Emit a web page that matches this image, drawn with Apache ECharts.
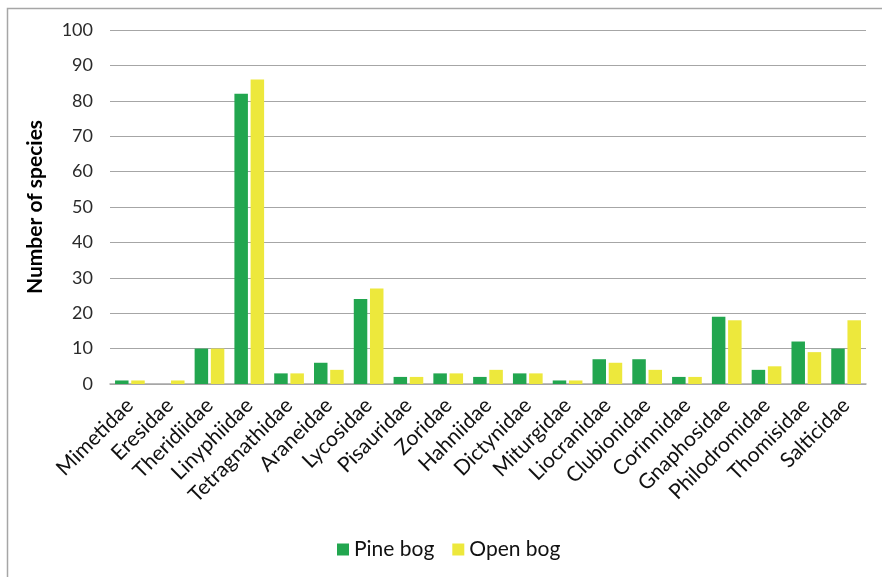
<!DOCTYPE html>
<html>
<head>
<meta charset="utf-8">
<script src="https://cdn.jsdelivr.net/npm/echarts@6/dist/echarts.min.js"></script>
<style>
  html, body { margin: 0; padding: 0; background: #fff; }
  #chart { width: 882px; height: 577px; }
</style>
</head>
<body>
<div id="chart"></div>
<script>
// Spider families and species counts per habitat
const families = ['Mimetidae', 'Eresidae', 'Theridiidae', 'Linyphiidae', 'Tetragnathidae',
  'Araneidae', 'Lycosidae', 'Pisauridae', 'Zoridae', 'Hahniidae', 'Dictynidae', 'Miturgidae',
  'Liocranidae', 'Clubionidae', 'Corinnidae', 'Gnaphosidae', 'Philodromidae', 'Thomisidae', 'Salticidae'];
const pineBog = [1, 0, 10, 82, 3, 6, 24, 2, 3, 2, 3, 1, 7, 7, 2, 19, 4, 12, 10];
const openBog = [1, 1, 10, 86, 3, 4, 27, 2, 3, 4, 3, 1, 6, 4, 2, 18, 5, 9, 18];
const seriesNames = ['Pine bog', 'Open bog'];

const FONT = 'Lato, "Open Sans", sans-serif';

const chart = echarts.init(document.getElementById('chart'));
chart.setOption({
  animation: false,
  backgroundColor: '#fff',
  graphic: [{
    type: 'rect',
    shape: { x: 7.5, y: 8.5, width: 900, height: 600 },
    style: { fill: 'none', stroke: '#a6a6a6', lineWidth: 1.5 },
    silent: true
  }],
  grid: { left: 110, right: 16, top: 30, bottom: 193 },
  legend: {
    data: seriesNames,
    bottom: 12,
    left: 332,
    icon: 'rect',
    itemWidth: 12,
    itemHeight: 12,
    itemGap: 18,
    textStyle: { fontFamily: FONT, fontSize: 21, color: '#111' }
  },
  xAxis: {
    type: 'category',
    data: families,
    axisLine: { lineStyle: { color: '#a6a6a6', width: 1.5 } },
    axisTick: { show: false },
    axisLabel: {
      rotate: 45,
      interval: 0,
      margin: 18,
      fontFamily: FONT,
      fontSize: 21,
      color: '#111'
    }
  },
  yAxis: {
    type: 'value',
    min: 0,
    max: 100,
    interval: 10,
    name: 'Number of species',
    nameLocation: 'middle',
    nameGap: 64,
    nameRotate: 90,
    nameTextStyle: { fontFamily: FONT, fontSize: 21, fontWeight: 'bold', color: '#000' },
    axisLine: { show: false },
    axisTick: { show: false },
    axisLabel: { margin: 17, fontFamily: FONT, fontSize: 18, color: '#2a2a2a' },
    splitLine: { lineStyle: { color: '#a6a6a6', width: 1 } }
  },
  series: [
    {
      name: seriesNames[0],
      type: 'bar',
      data: pineBog,
      barWidth: 13.5,
      barGap: '20%',
      itemStyle: { color: '#22a64f' }
    },
    {
      name: seriesNames[1],
      type: 'bar',
      data: openBog,
      barWidth: 13.5,
      barGap: '20%',
      itemStyle: { color: '#ede83c' }
    }
  ]
});
</script>
</body>
</html>
